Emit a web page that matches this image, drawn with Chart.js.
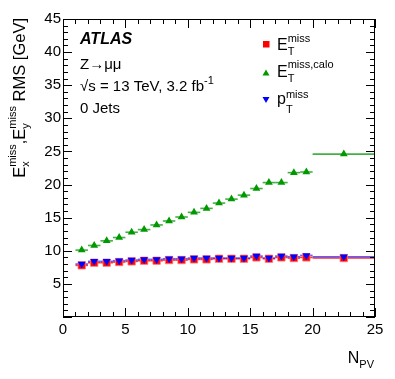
<!DOCTYPE html>
<html>
<head>
<meta charset="utf-8">
<script src="https://cdn.jsdelivr.net/npm/chart.js@4"></script>
<style>
html, body { margin: 0; padding: 0; background: #fff; }
</style>
</head>
<body>
<canvas id="c" width="395" height="379"></canvas>
<script>
// bin centres and edges in N_PV
const npv    = [1.5, 2.5, 3.5, 4.5, 5.5, 6.5, 7.5, 8.5, 9.5, 10.5, 11.5, 12.5, 13.5, 14.5, 15.5, 16.5, 17.5, 18.5, 19.5, 22.5];
const binLo  = [1, 2, 3, 4, 5, 6, 7, 8, 9, 10, 11, 12, 13, 14, 15, 16, 17, 18, 19, 20];
const binHi  = [2, 3, 4, 5, 6, 7, 8, 9, 10, 11, 12, 13, 14, 15, 16, 17, 18, 19, 20, 25];
// RMS values [GeV]
const metRms   = [7.8, 8.2, 8.2, 8.3, 8.4, 8.5, 8.5, 8.6, 8.6, 8.7, 8.7, 8.8, 8.8, 8.8, 9.0, 8.8, 9.0, 8.9, 9.0, 8.9];
const caloRms  = [10.1, 10.8, 11.5, 12.0, 12.8, 13.2, 13.9, 14.5, 15.1, 15.8, 16.4, 17.2, 17.8, 18.4, 19.4, 20.3, 20.3, 21.8, 21.9, 24.6];
const trackRms = [8.0, 8.4, 8.4, 8.5, 8.6, 8.7, 8.7, 8.8, 8.8, 8.9, 8.9, 8.9, 8.9, 8.9, 9.2, 8.9, 9.2, 9.1, 9.3, 9.1];
const xRange = [0, 25];
const yRange = [0, 45];

const FONT = "'Liberation Sans', Arial, sans-serif";

const pts = (ys) => npv.map((x, i) => ({ x: x, y: ys[i] }));

// draws text made of pieces with stacked super/subscripts
function drawRich(ctx, segs, x, y, align, size, small, supDy, subDy) {
    const w = (t, s) => { ctx.font = s + 'px ' + FONT; return t ? ctx.measureText(t).width : 0; };
    let total = 0;
    segs.forEach(s => { total += w(s.base, size) + Math.max(w(s.sup, small), w(s.sub, small)); });
    let cx = align === 'right' ? x - total : x;
    ctx.textAlign = 'left';
    ctx.textBaseline = 'alphabetic';
    segs.forEach(s => {
        ctx.font = size + 'px ' + FONT;
        ctx.fillText(s.base, cx, y);
        cx += w(s.base, size);
        ctx.font = small + 'px ' + FONT;
        if (s.sup) ctx.fillText(s.sup, cx, y + supDy);
        if (s.sub) ctx.fillText(s.sub, cx, y + subDy);
        cx += Math.max(w(s.sup, small), w(s.sub, small));
    });
}

const errBars = {
    id: 'errBars',
    beforeDatasetsDraw(chart) {
        const ctx = chart.ctx;
        const xs = chart.scales.x, ys = chart.scales.y;
        const sets = [[metRms, '#ff3030'], [caloRms, '#44b044'], [trackRms, 'rgba(40,40,255,0.75)']];
        ctx.save();
        sets.forEach(([vals, col]) => {
            ctx.strokeStyle = col;
            ctx.lineWidth = 1.6;
            vals.forEach((v, i) => {
                const py = ys.getPixelForValue(v);
                ctx.beginPath();
                ctx.moveTo(xs.getPixelForValue(binLo[i]), py);
                ctx.lineTo(xs.getPixelForValue(binHi[i]), py);
                ctx.stroke();
            });
        });
        ctx.restore();
    }
};

const frame = {
    id: 'frame',
    afterDraw(chart) {
        const ctx = chart.ctx;
        const a = chart.chartArea;
        const xs = chart.scales.x, ys = chart.scales.y;
        ctx.save();
        ctx.strokeStyle = '#000';
        ctx.lineWidth = 1;
        ctx.strokeRect(a.left + 0.5, a.top + 0.5, a.right - a.left - 1, a.bottom - a.top - 1);
        ctx.beginPath();
        for (let v = xRange[0]; v <= xRange[1]; v++) {
            const px = Math.round(xs.getPixelForValue(v)) + 0.5;
            const len = v % 5 === 0 ? 9 : 5;
            ctx.moveTo(px, a.bottom); ctx.lineTo(px, a.bottom - len);
            ctx.moveTo(px, a.top); ctx.lineTo(px, a.top + len);
        }
        for (let v = yRange[0]; v <= yRange[1]; v++) {
            const py = Math.round(ys.getPixelForValue(v)) + 0.5;
            const len = v % 5 === 0 ? 9 : 5;
            ctx.moveTo(a.left, py); ctx.lineTo(a.left + len, py);
            ctx.moveTo(a.right, py); ctx.lineTo(a.right - len, py);
        }
        ctx.stroke();

        ctx.fillStyle = '#000';
        // labels
        ctx.font = 'italic bold 16px ' + FONT;
        ctx.fillText('ATLAS', 80, 44);
        ctx.font = '15px ' + FONT;
        ctx.fillText('Z\u2192\u03bc\u03bc', 80, 69);
        drawRich(ctx, [{ base: '\u221as = 13 TeV, 3.2 fb', sup: '-1' }], 80, 91, 'left', 15, 11, -7, 4);
        ctx.font = '15px ' + FONT;
        ctx.fillText('0 Jets', 80, 113);

        // legend
        ctx.fillStyle = '#ff0000';
        ctx.fillRect(263, 41, 6.5, 6.5);
        ctx.fillStyle = '#009900';
        ctx.beginPath(); ctx.moveTo(266, 69.5); ctx.lineTo(269.5, 75.5); ctx.lineTo(262.5, 75.5); ctx.closePath(); ctx.fill();
        ctx.fillStyle = '#0000ff';
        ctx.beginPath(); ctx.moveTo(262.5, 97); ctx.lineTo(269.5, 97); ctx.lineTo(266, 103); ctx.closePath(); ctx.fill();
        ctx.fillStyle = '#000';
        drawRich(ctx, [{ base: 'E', sup: 'miss', sub: 'T' }], 277, 50, 'left', 16, 11, -8, 5);
        drawRich(ctx, [{ base: 'E', sup: 'miss,calo', sub: 'T' }], 277, 77, 'left', 16, 11, -9, 5);
        drawRich(ctx, [{ base: 'p', sup: 'miss', sub: 'T' }], 277, 104, 'left', 16, 11, -6, 9);

        // axis titles
        drawRich(ctx, [{ base: 'N', sub: 'PV' }], 374, 363, 'right', 16, 11, -8, 5);
        ctx.translate(25, 18);
        ctx.rotate(-Math.PI / 2);
        drawRich(ctx, [
            { base: 'E', sup: 'miss', sub: 'x' },
            { base: ',E', sup: 'miss', sub: 'y' },
            { base: ' RMS [GeV]' }
        ], 0, 0, 'right', 16.5, 11, -9, 4);
        ctx.restore();
    }
};

new Chart(document.getElementById('c'), {
    type: 'scatter',
    data: {
        datasets: [
            { label: 'met', order: 3, data: pts(metRms), pointStyle: 'rect', pointRadius: 5.2, backgroundColor: '#ff0000', borderColor: 'rgba(255,120,120,0.8)', borderWidth: 1 },
            { label: 'calo', order: 2, data: pts(caloRms), pointStyle: 'triangle', pointRadius: 4.5, backgroundColor: '#009900', borderColor: '#009900', borderWidth: 0 },
            { label: 'track', order: 1, data: pts(trackRms), pointStyle: 'triangle', rotation: 180, pointRadius: 4.5, backgroundColor: '#0000ff', borderColor: '#0000ff', borderWidth: 0 }
        ]
    },
    options: {
        responsive: false,
        animation: false,
        devicePixelRatio: 1,
        layout: { padding: { top: 19, right: 20, left: 0, bottom: 0 } },
        plugins: { legend: { display: false }, tooltip: { enabled: false } },
        scales: {
            x: {
                type: 'linear', min: xRange[0], max: xRange[1],
                grid: { display: false, drawTicks: false },
                border: { display: false },
                ticks: { stepSize: 5, padding: 4, color: '#000', font: { family: FONT, size: 15 } },
                afterFit: s => { s.height = 62; }
            },
            y: {
                type: 'linear', min: yRange[0], max: yRange[1],
                grid: { display: false, drawTicks: false },
                border: { display: false },
                ticks: { stepSize: 5, padding: 2, color: '#000', font: { family: FONT, size: 15 },
                    callback: v => v === 0 ? '' : v },
                afterFit: s => { s.width = 63; }
            }
        }
    },
    plugins: [errBars, frame]
});
</script>
</body>
</html>
